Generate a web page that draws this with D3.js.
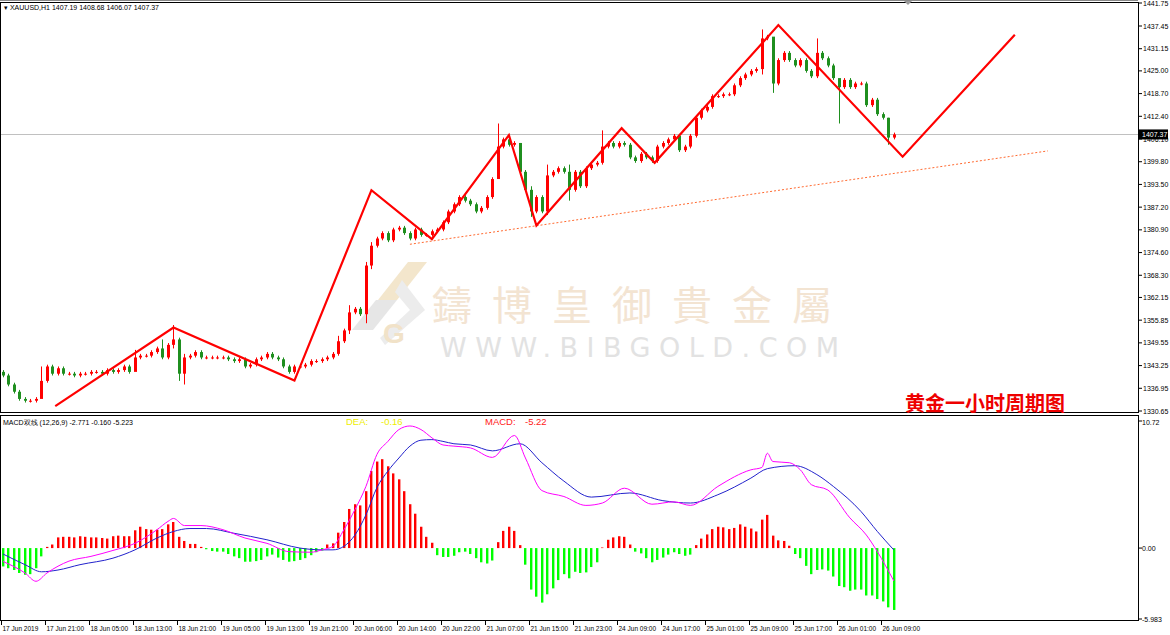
<!DOCTYPE html>
<html><head><meta charset="utf-8">
<script src="https://cdn.jsdelivr.net/npm/d3@7"></script>
<style>body{margin:0;background:#fff}svg{display:block;font-family:"Liberation Sans",sans-serif}</style>
</head><body><div id="wrapper"></div>
<script>
// closes, one per H1 bar (open = previous close)
const closes = [1340.5,1338,1336,1334,1333.5,1333.5,1334,1339,1343,1341,1342.5,1341,1341,1340.5,1341,1341,1341.5,1341.5,1341,1342,
1341.5,1342,1343,1341.5,1345.5,1346,1346,1347,1348,1345.5,1349,1350.5,1341,1345.5,1346,1347,1345.5,1345.5,1345.5,1345.5,
1345.5,1345,1344.5,1345,1343,1343.5,1345,1345.5,1346.5,1345.5,1345,1343,1341.5,1343,1343,1343.5,1344.5,1344.5,1345,1345.5,
1346.5,1350,1353,1358,1359,1357.5,1371,1376.5,1378.5,1380,1378,1381,1381.5,1380,1378.5,1381,1379.5,1379.5,1380.5,1381,
1383,1386,1388,1390,1389,1388,1386,1387,1390,1395,1404,1406,1404.5,1405,1397,1392,1386,1390,1386,1396,
1397,1398,1397,1392,1397,1393,1398,1399,1399.5,1404,1405,1404,1405,1404.5,1401,1400,1402,1401,1400,1404,
1405,1406,1407,1403,1404,1407,1412,1414,1415,1418,1418,1418.5,1418.5,1421,1423,1424,1425,1425.5,1434,1434.5,
1421.5,1428,1430,1428,1426.5,1428,1425,1423.5,1430,1428.5,1426.5,1423,1420.5,1422.5,1420.5,1421.5,1421.5,1415.5,1417,1413,
1412,1406.5,1407.37];
const firstOpen = 1341.5;
// notable wick extremes: index -> [high, low]
const wicks = {7:[1343,1337.5],24:[1347.6,1343],29:[1350.5,1345],31:[1354.5,1348],32:[1351,1339],33:[1346.5,1338],
  61:[1351.5,1346],63:[1360,1352],66:[1372,1355],67:[1377.5,1370],90:[1410.4,1395],94:[1405,1396],96:[1393,1384.5],
  99:[1399,1385],103:[1399,1389],109:[1408.5,1399],138:[1436.5,1424],140:[1433,1418.9],148:[1434,1423],
  152:[1422,1410.4],161:[1412,1404.5]};

const dif = [[0,-1.13],[4,-2.1],[6,-2.8],[8,-2.1],[12,-1.1],[16,-0.7],[20,-0.2],[24,0.4],[28,1.55],[30,2.25],[31,2.5],
  [33,1.9],[36,1.9],[40,1.55],[44,0.85],[48,0.4],[52,-0.3],[56,-0.35],[58,-0.15],[60,0.15],[62,1.55],[64,3.25],[66,5.2],
  [68,7.9],[70,9.0],[72,10.0],[74,10.3],[76,10.0],[78,9.3],[80,8.7],[82,8.6],[85,8.45],[89,7.65],[93,9.5],[95,7.6],
  [98,4.85],[102,4.35],[106,3.6],[109,3.8],[113,5.05],[118,3.7],[122,3.9],[125,3.6],[130,5.2],[136,6.6],[138,6.8],
  [139,8.0],[140,7.3],[143,7.2],[145,6.6],[147,5.35],[150,4.9],[154,2.55],[157,1.1],[159,-0.3],[162,-2.771]];
const dea = [[0,-0.5],[4,-1.4],[7,-2.0],[10,-1.85],[14,-1.4],[20,-0.85],[24,-0.15],[28,0.85],[31,1.4],[34,1.65],[37,1.65],
  [42,1.25],[48,0.7],[54,0],[58,-0.15],[60,-0.15],[62,0.15],[64,1.1],[66,2.8],[68,5.1],[70,6.5],[72,7.6],[74,8.6],[76,9.1],
  [78,9.15],[80,9.0],[82,8.8],[85,8.7],[89,8.2],[94,8.8],[98,7.2],[102,5.65],[107,4.3],[114,4.65],[120,4.0],[125,3.8],
  [130,4.5],[136,5.9],[139,6.7],[144,6.95],[148,6.2],[151,5.2],[156,3.1],[159,1.4],[162,-0.16]];
const hist = [-1.55,-1.7,-1.85,-2.1,-2.25,-2.2,-1.7,-0.7,
 0.1,0.3,0.9,0.95,0.95,0.9,1.0,0.95,0.9,0.9,0.85,0.8,1.0,1.05,1.0,1.0,1.5,1.8,1.6,1.55,1.55,1.6,2.0,2.2,0.95,0.6,0.35,0.35,0.1,
 -0.1,-0.25,-0.3,-0.3,-0.5,-0.7,-0.85,-1.15,-1.15,-1.1,-1.0,-0.7,-0.55,-0.8,-1.0,-1.15,-1.1,-1.0,-0.85,-0.6,-0.35,-0.2,
 0.3,0.4,1.3,2.2,3.3,3.7,3.6,4.8,6.5,7.3,7.5,6.9,6.3,5.8,4.8,3.7,2.9,1.8,0.95,0.45,
 -0.6,-0.75,-0.75,
 -0.65,-0.35,-0.3,-0.5,-0.85,-1.2,-1.3,-1.05,0.5,1.45,1.8,1.45,0.25,-1.4,-3.5,-4.1,-4.6,-3.9,-3.4,-2.7,-2.2,-2.55,-2.0,-2.1,
 -2.05,-1.6,-1.2,0.05,0.7,0.9,1.0,0.95,0.3,-0.3,-0.45,-0.85,-1.2,-1.0,-0.8,-0.55,-0.35,-0.5,-0.65,-0.55,0.25,0.8,1.15,1.6,
 1.8,1.75,1.6,1.7,2.0,1.8,1.65,1.4,2.4,2.8,1.05,0.65,0.6,0.2,-0.5,-0.85,-1.5,-2.2,-1.85,-1.8,-1.9,-2.4,-3.2,-3.3,-3.6,-3.5,
 -3.5,-4.0,-4.0,-4.3,-4.5,-5.0,-5.22];

const zigzag = [[9.5,1332],[31,1353.8],[53,1339.1],[67,1391.9],[78,1378.3],[92,1407.2],[97,1382.1],[112.5,1409.1],
  [118.5,1399.5],[141,1437.7],[163.6,1401.2],[184,1435]];
const trend = [[74,1376.9],[190,1402.8]];
const priceTicks = [1441.75,1437.45,1431.15,1425.00,1418.70,1412.40,1406.10,1399.80,1393.50,1387.20,1380.90,1374.60,
  1368.30,1362.15,1355.85,1349.55,1343.25,1336.95,1330.65];
const macdTicks = [10.72,0.00,-5.983];
const dateLabels = ["17 Jun 2019","17 Jun 21:00","18 Jun 05:00","18 Jun 13:00","18 Jun 21:00","19 Jun 05:00","19 Jun 13:00",
  "19 Jun 21:00","20 Jun 06:00","20 Jun 14:00","20 Jun 22:00","21 Jun 07:00","21 Jun 15:00","21 Jun 23:00","24 Jun 09:00",
  "24 Jun 17:00","25 Jun 01:00","25 Jun 09:00","25 Jun 17:00","26 Jun 01:00","26 Jun 09:00"];
const lastPrice = 1407.37;

const W = 1170, H = 635, R = 1138;
const svg = d3.select("#wrapper").append("svg").attr("width", W).attr("height", H);

const x = d3.scaleLinear().domain([0, 206.4]).range([3, R]);
const y = d3.scaleLinear().domain([1330.65, 1437.45]).range([411, 26]);
const ym = d3.scaleLinear().domain([-5.983, 10.72]).range([619, 421]);

// frames
svg.append("rect").attr("x",0.5).attr("y",2.5).attr("width",R).attr("height",410).attr("fill","none").attr("stroke","#000");
svg.append("rect").attr("x",0.5).attr("y",415.5).attr("width",R).attr("height",205).attr("fill","none").attr("stroke","#000");
svg.append("line").attr("x1",0).attr("x2",R).attr("y1",0.5).attr("y2",0.5).attr("stroke","#888");
svg.append("path").attr("d","M904,1 L912,1 L908,5 Z").attr("fill","#999");

// watermark
const wm = svg.append("g");
wm.append("path").attr("d","M378,300 L408,262 L427,262 L397,300 Z").attr("fill","#f3e6cc");
wm.append("path").attr("d","M352,330 L376,300 L397,300 L373,330 Z").attr("fill","#e6e6e6");
wm.append("path").attr("d","M385,345 L425,310 L402,280 L395,292 L410,310 L380,338 Z").attr("fill","#ececec");
wm.append("text").attr("x",383).attr("y",343).attr("font-size",28).attr("font-weight","bold").attr("fill","#f1e2c8").text("G");
wm.append("text").attr("x",432).attr("y",320).attr("font-size",40).attr("font-family","Noto Sans CJK TC")
  .attr("fill","#f3e4d2").attr("letter-spacing",20).text("鑄博皇御貴金屬");
wm.append("text").attr("x",440).attr("y",357).attr("font-size",27).attr("font-family","DejaVu Sans")
  .attr("fill","#e2e2e2").attr("letter-spacing",8.5).text("WWW.BIBGOLD.COM");

// last price line
svg.append("line").attr("x1",1).attr("x2",R).attr("y1",Math.round(y(lastPrice))+0.5).attr("y2",Math.round(y(lastPrice))+0.5).attr("stroke","#c0c0c0");

// trendline
svg.append("path").attr("d", d3.line().x(d=>x(d[0])).y(d=>y(d[1]))(trend))
  .attr("stroke","#ff6a30").attr("stroke-dasharray","2,2").attr("fill","none");

// candles
const opens = closes.map((c,i)=> i===0 ? firstOpen : closes[i-1]);
const bars = closes.map((c,i)=>{
  const o = opens[i], w = wicks[i];
  return {i, o, c, h: w ? w[0] : Math.max(o,c)+0.5, l: w ? w[1] : Math.min(o,c)-0.5, up: c>=o};
});
const cg = svg.append("g");
cg.selectAll("line").data(bars).enter().append("line")
  .attr("x1",d=>Math.round(x(d.i))+0.5).attr("x2",d=>Math.round(x(d.i))+0.5)
  .attr("y1",d=>y(d.h)).attr("y2",d=>y(d.l))
  .attr("stroke",d=>d.up?"#ff0000":"#1f8f1f");
cg.selectAll("rect").data(bars).enter().append("rect")
  .attr("x",d=>Math.round(x(d.i))-1).attr("width",3)
  .attr("y",d=>y(Math.max(d.o,d.c))).attr("height",d=>Math.max(1,Math.abs(y(d.o)-y(d.c))))
  .attr("fill",d=>d.up?"#ff0000":"#1f8f1f");

// zigzag
svg.append("path").attr("d", d3.line().x(d=>x(d[0])).y(d=>y(d[1]))(zigzag))
  .attr("stroke","#ff0000").attr("stroke-width",2.2).attr("fill","none");

// price axis
const pa = svg.append("g").attr("font-size",7).attr("fill","#000");
priceTicks.forEach((p,k)=>{
  const yy = k===0 ? 3 : y(p);
  pa.append("line").attr("x1",R).attr("x2",R+4).attr("y1",yy).attr("y2",yy).attr("stroke","#000");
  pa.append("text").attr("x",R+5).attr("y",yy+2.5).text(p.toFixed(2));
});
const ly = y(lastPrice);
svg.append("rect").attr("x",R+1).attr("y",ly-5).attr("width",29).attr("height",10).attr("fill","#000");
svg.append("text").attr("x",R+4).attr("y",ly+2.5).attr("font-size",7).attr("fill","#fff").text(lastPrice.toFixed(2));

svg.append("text").attr("x",4).attr("y",10).attr("font-size",7).text("▾ XAUUSD,H1  1407.19 1408.68 1406.07 1407.37");
svg.append("text").attr("x",905).attr("y",411).attr("font-size",20).attr("font-weight","bold")
  .attr("font-family","Noto Sans CJK SC").attr("fill","#ee0000").text("黄金一小时周期图");

// MACD panel
const hg = svg.append("g");
hg.selectAll("rect").data(hist).enter().append("rect")
  .attr("x",(d,i)=>Math.round(x(i))-1).attr("width",2.4)
  .attr("y",d=>d>=0?ym(d):ym(0)).attr("height",d=>Math.abs(ym(d)-ym(0)))
  .attr("fill",d=>d>=0?"#ff0000":"#00ff00");
const ml = d3.line().x(d=>x(d[0])).y(d=>ym(d[1])).curve(d3.curveMonotoneX);
svg.append("path").attr("d",ml(dea)).attr("stroke","#2222cc").attr("fill","none");
svg.append("path").attr("d",ml(dif)).attr("stroke","#ff00ff").attr("fill","none");

svg.append("text").attr("x",3).attr("y",425).attr("font-size",7).text("MACD双线 (12,26,9) -2.771 -0.160 -5.223");
const lg = svg.append("g").attr("font-size",9.5);
lg.append("text").attr("x",346).attr("y",425).attr("fill","#eeee00").text("DEA:");
lg.append("text").attr("x",381).attr("y",425).attr("fill","#eeee00").text("-0.16");
lg.append("text").attr("x",485).attr("y",425).attr("fill","#ff2020").text("MACD:");
lg.append("text").attr("x",525).attr("y",425).attr("fill","#ff2020").text("-5.22");

const ma = svg.append("g").attr("font-size",7);
macdTicks.forEach((v,k)=>{
  const yy = ym(v);
  ma.append("line").attr("x1",R).attr("x2",R+4).attr("y1",yy).attr("y2",yy).attr("stroke","#000");
  ma.append("text").attr("x",R+4).attr("y",k===0?yy+4:yy+2.5).text(k===1?v.toFixed(2):String(v));
});

// date axis
const da = svg.append("g").attr("font-size",6.5);
dateLabels.forEach((t,k)=>{
  const xx = Math.round(x(k*8))-1.5;
  da.append("line").attr("x1",xx).attr("x2",xx).attr("y1",621).attr("y2",625).attr("stroke","#000");
  da.append("text").attr("x",xx+1).attr("y",631).text(t);
});
</script></body></html>
